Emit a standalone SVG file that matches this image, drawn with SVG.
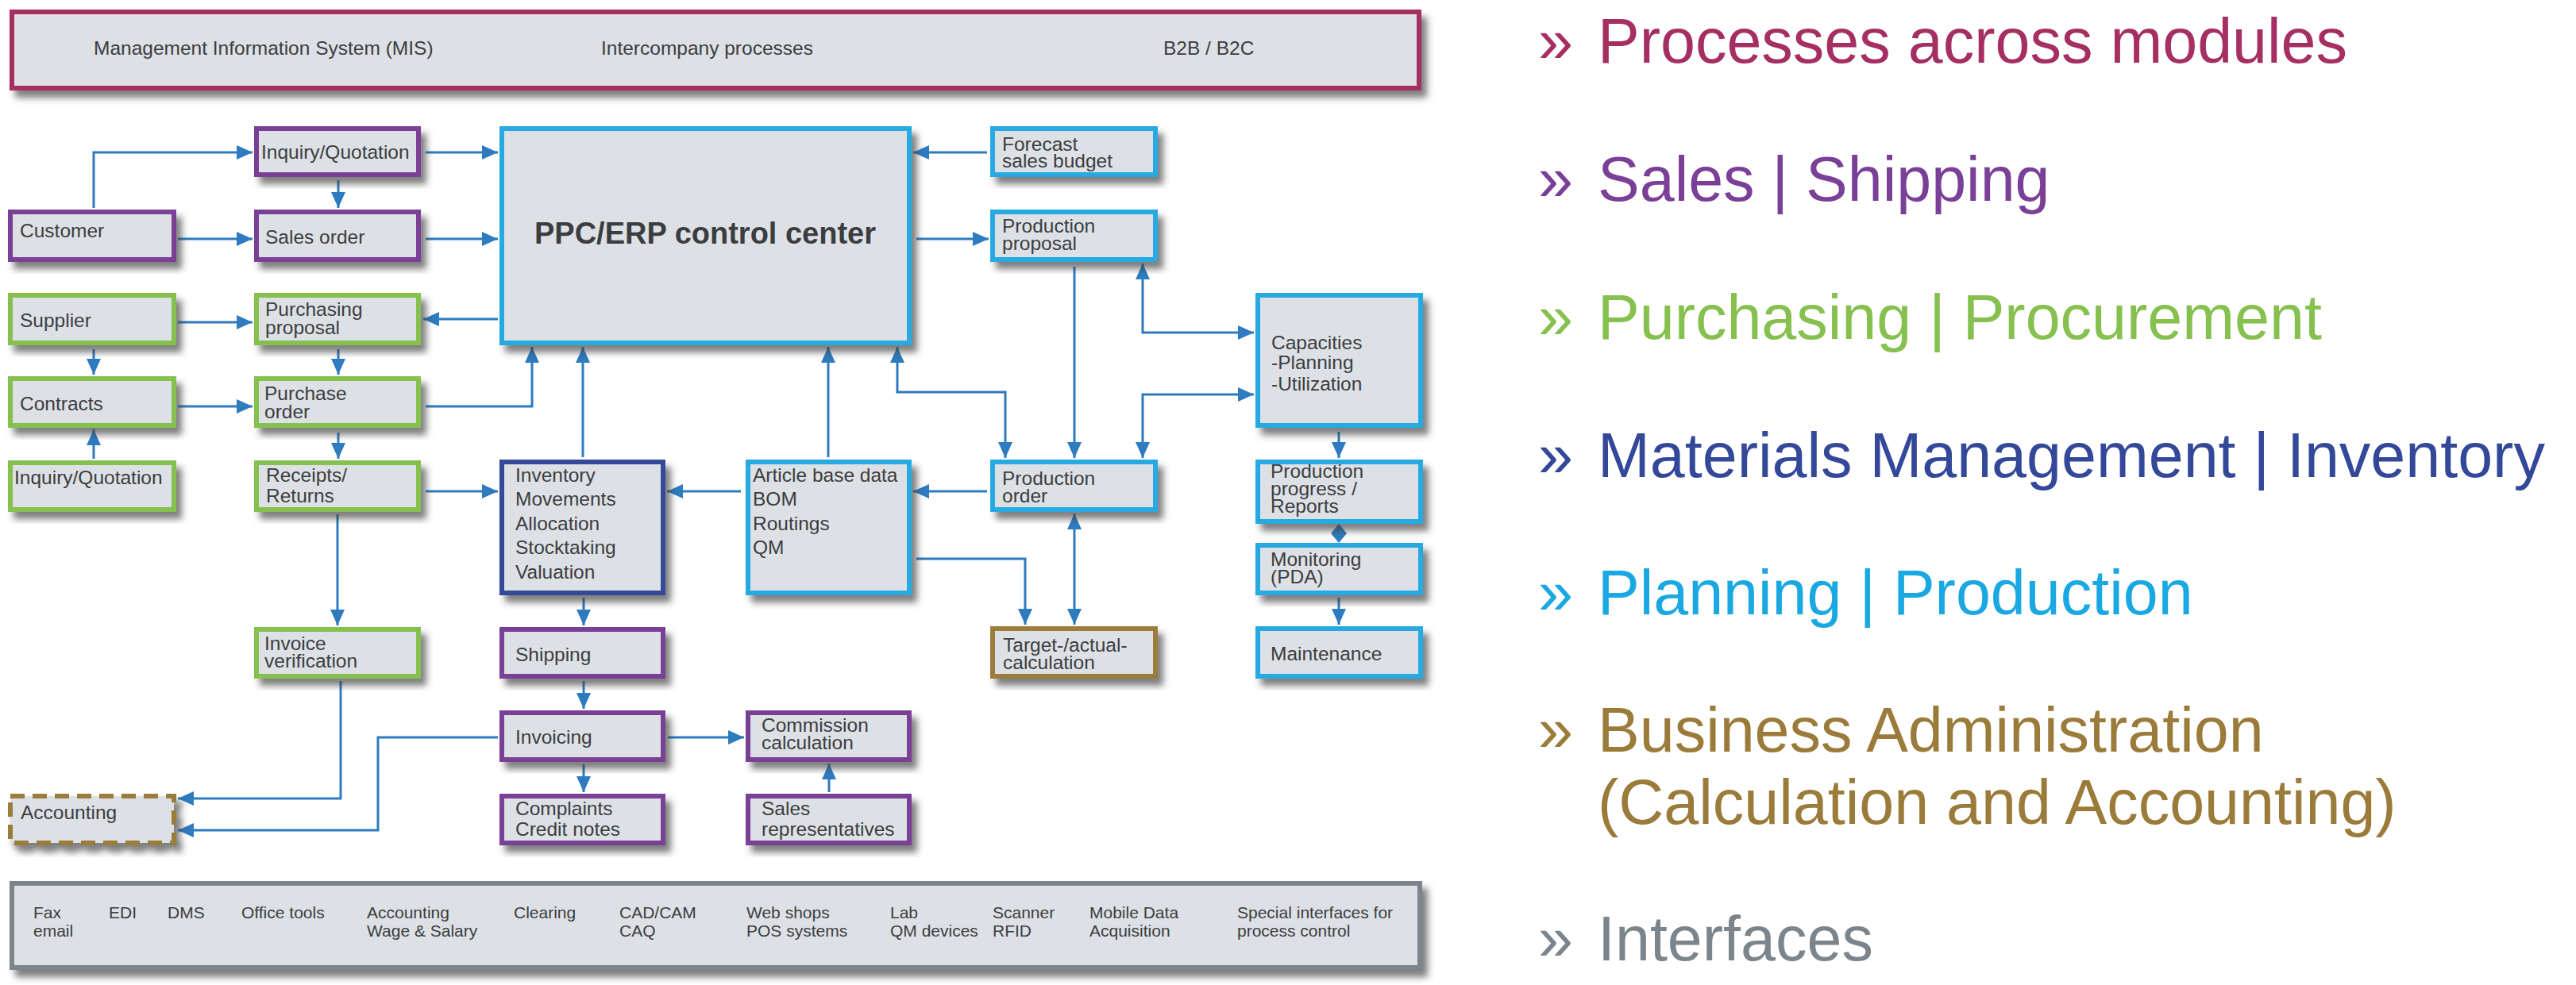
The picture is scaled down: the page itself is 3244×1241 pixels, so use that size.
<svg xmlns="http://www.w3.org/2000/svg" width="3244" height="1241" viewBox="0 0 3244 1241">
<style>
  .box { fill: #dde1e5; stroke-width: 6; filter: url(#sh); }
  .pur { stroke: #7a3f96; }
  .grn { stroke: #86c04f; }
  .cyn { stroke: #27aae1; }
  .dbl { stroke: #34489a; }
  .olv { stroke: #9a7b3a; }
  .dash { stroke-dasharray: 18 10; }
  .t { font-family: "Liberation Sans", Arial, sans-serif; font-size: 24.5px; fill: #3b3d40; }
  .s { font-family: "Liberation Sans", Arial, sans-serif; font-size: 21px; fill: #3b3d40; }
  .b { font-family: "Liberation Sans", Arial, sans-serif; font-size: 24.5px; fill: #3b3d40; }
  .lg { font-family: "Liberation Sans", Arial, sans-serif; font-size: 79px; }
  .conn path { fill: none; stroke: #2e7bbf; stroke-width: 3; }
  .conn path.dia { fill: #2e7bbf; stroke: none; }
</style>
<defs>
  <filter id="sh" x="-10%" y="-10%" width="130%" height="140%">
    <feDropShadow dx="7" dy="9" stdDeviation="4" flood-color="#3a3a3a" flood-opacity="0.65"/>
  </filter>
  <marker id="ah" viewBox="0 0 20 18" refX="20" refY="9" markerWidth="20" markerHeight="18" markerUnits="userSpaceOnUse" orient="auto-start-reverse">
    <path d="M0,0 L20,9 L0,18 Z" fill="#2e7bbf"/>
  </marker>
</defs>
<rect width="3244" height="1241" fill="#ffffff"/>

<g id="top-bar">
  <rect x="15" y="15" width="1772" height="96" fill="#dde1e5" stroke="#a52f63" stroke-width="6" filter="url(#sh)"/>
  <text class="b" x="118" y="69">Management Information System (MIS)</text>
  <text class="b" x="757" y="69">Intercompany processes</text>
  <text class="b" x="1465" y="69">B2B / B2C</text>
</g>

<g id="bottom-bar">
  <rect x="15" y="1113" width="1773" height="106" fill="#dde1e5" stroke="#7c858c" stroke-width="6" filter="url(#sh)"/>
  <text class="s" x="42" y="1157">Fax</text><text class="s" x="42" y="1180">email</text>
  <text class="s" x="137" y="1157">EDI</text>
  <text class="s" x="211" y="1157">DMS</text>
  <text class="s" x="304" y="1157">Office tools</text>
  <text class="s" x="462" y="1157">Accounting</text><text class="s" x="462" y="1180">Wage &amp; Salary</text>
  <text class="s" x="647" y="1157">Clearing</text>
  <text class="s" x="780" y="1157">CAD/CAM</text><text class="s" x="780" y="1180">CAQ</text>
  <text class="s" x="940" y="1157">Web shops</text><text class="s" x="940" y="1180">POS systems</text>
  <text class="s" x="1121" y="1157">Lab</text><text class="s" x="1121" y="1180">QM devices</text>
  <text class="s" x="1250" y="1157">Scanner</text><text class="s" x="1250" y="1180">RFID</text>
  <text class="s" x="1372" y="1157">Mobile Data</text><text class="s" x="1372" y="1180">Acquisition</text>
  <text class="s" x="1558" y="1157">Special interfaces for</text><text class="s" x="1558" y="1180">process control</text>
</g>

<g class="conn" id="connectors">
  <path d="M118,262 V192 H318" marker-end="url(#ah)"/>
  <path d="M224,301 H318" marker-end="url(#ah)"/>
  <path d="M426,227 V262" marker-end="url(#ah)"/>
  <path d="M536,192 H627" marker-end="url(#ah)"/>
  <path d="M536,301 H627" marker-end="url(#ah)"/>
  <path d="M627,402 H533" marker-end="url(#ah)"/>
  <path d="M224,406 H318" marker-end="url(#ah)"/>
  <path d="M118,440 V472" marker-end="url(#ah)"/>
  <path d="M426,440 V472" marker-end="url(#ah)"/>
  <path d="M224,512 H318" marker-end="url(#ah)"/>
  <path d="M536,512 H670 V437" marker-end="url(#ah)"/>
  <path d="M118,578 V541" marker-end="url(#ah)"/>
  <path d="M426,545 V578" marker-end="url(#ah)"/>
  <path d="M536,619 H627" marker-end="url(#ah)"/>
  <path d="M734,576 V437" marker-end="url(#ah)"/>
  <path d="M1043,576 V437" marker-end="url(#ah)"/>
  <path d="M1130,437 V494 H1266 V577" marker-start="url(#ah)" marker-end="url(#ah)"/>
  <path d="M1243,192 H1150" marker-end="url(#ah)"/>
  <path d="M1154,301 H1245" marker-end="url(#ah)"/>
  <path d="M1353,336 V577" marker-end="url(#ah)"/>
  <path d="M1439,332 V419 H1579" marker-start="url(#ah)" marker-end="url(#ah)"/>
  <path d="M1579,497 H1439 V577" marker-start="url(#ah)" marker-end="url(#ah)"/>
  <path d="M1686,544 V577" marker-end="url(#ah)"/>
  <path d="M933,619 H840" marker-end="url(#ah)"/>
  <path d="M1243,619 H1150" marker-end="url(#ah)"/>
  <path d="M1154,704 H1291 V787" marker-end="url(#ah)"/>
  <path d="M1353,647 V787" marker-start="url(#ah)" marker-end="url(#ah)"/>
  <path class="dia" d="M1686,660 L1696,672 L1686,684 L1676,672 Z"/>
  <path d="M1686,753 V787" marker-end="url(#ah)"/>
  <path d="M425,648 V788" marker-end="url(#ah)"/>
  <path d="M735,753 V788" marker-end="url(#ah)"/>
  <path d="M735,858 V893" marker-end="url(#ah)"/>
  <path d="M735,963 V998" marker-end="url(#ah)"/>
  <path d="M429,858 V1006 H224" marker-end="url(#ah)"/>
  <path d="M627,929 H476 V1046 H224" marker-end="url(#ah)"/>
  <path d="M841,929 H937" marker-end="url(#ah)"/>
  <path d="M1044,998 V962" marker-end="url(#ah)"/>
</g>

<g id="inquiry-quotation-1"><rect class="box pur" x="323" y="162" width="204" height="58"/><text class="t" x="329" y="200">Inquiry/Quotation</text></g>
<g id="customer"><rect class="box pur" x="13" y="267" width="206" height="60"/><text class="t" x="25" y="299">Customer</text></g>
<g id="sales-order"><rect class="box pur" x="323" y="267" width="204" height="60"/><text class="t" x="334" y="307">Sales order</text></g>
<g id="supplier"><rect class="box grn" x="13" y="372" width="206" height="60"/><text class="t" x="25" y="412">Supplier</text></g>
<g id="purchasing-proposal"><rect class="box grn" x="323" y="372" width="204" height="60"/><text class="t" x="334" y="398">Purchasing</text><text class="t" x="334" y="421">proposal</text></g>
<g id="contracts"><rect class="box grn" x="13" y="477" width="206" height="59"/><text class="t" x="25" y="517">Contracts</text></g>
<g id="purchase-order"><rect class="box grn" x="323" y="477" width="204" height="59"/><text class="t" x="333" y="504">Purchase</text><text class="t" x="333" y="527">order</text></g>
<g id="inquiry-quotation-2"><rect class="box grn" x="13" y="583" width="206" height="59"/><text class="t" x="18" y="610">Inquiry/Quotation</text></g>
<g id="receipts-returns"><rect class="box grn" x="323" y="583" width="204" height="59"/><text class="t" x="335" y="607">Receipts/</text><text class="t" x="335" y="633">Returns</text></g>
<g id="invoice-verification"><rect class="box grn" x="323" y="793" width="204" height="59"/><text class="t" x="333" y="819">Invoice</text><text class="t" x="333" y="841">verification</text></g>
<g id="accounting"><rect class="box olv dash" x="13" y="1003" width="206" height="59"/><text class="t" x="26" y="1032">Accounting</text></g>

<g id="ppc-erp"><rect class="box cyn" x="632" y="162" width="513" height="270"/><text x="888" y="307" text-anchor="middle" font-family="Liberation Sans, Arial, sans-serif" font-weight="bold" font-size="38" fill="#3b3d40">PPC/ERP control center</text></g>
<g id="inventory"><rect class="box dbl" x="632" y="582" width="203" height="165"/><text class="t" x="649" y="607">Inventory</text><text class="t" x="649" y="637">Movements</text><text class="t" x="649" y="668">Allocation</text><text class="t" x="649" y="698">Stocktaking</text><text class="t" x="649" y="729">Valuation</text></g>
<g id="shipping"><rect class="box pur" x="632" y="793" width="203" height="59"/><text class="t" x="649" y="833">Shipping</text></g>
<g id="invoicing"><rect class="box pur" x="632" y="898" width="203" height="59"/><text class="t" x="649" y="937">Invoicing</text></g>
<g id="complaints"><rect class="box pur" x="632" y="1003" width="203" height="59"/><text class="t" x="649" y="1027">Complaints</text><text class="t" x="649" y="1053">Credit notes</text></g>
<g id="article-base-data"><rect class="box cyn" x="942" y="582" width="203" height="165"/><text class="t" x="948" y="607">Article base data</text><text class="t" x="948" y="637">BOM</text><text class="t" x="948" y="668">Routings</text><text class="t" x="948" y="698">QM</text></g>
<g id="commission"><rect class="box pur" x="942" y="898" width="203" height="59"/><text class="t" x="959" y="922">Commission</text><text class="t" x="959" y="944">calculation</text></g>
<g id="sales-representatives"><rect class="box pur" x="942" y="1003" width="203" height="59"/><text class="t" x="959" y="1027">Sales</text><text class="t" x="959" y="1053">representatives</text></g>

<g id="forecast"><rect class="box cyn" x="1250" y="162" width="205" height="58"/><text class="t" x="1262" y="190">Forecast</text><text class="t" x="1262" y="211">sales budget</text></g>
<g id="production-proposal"><rect class="box cyn" x="1250" y="267" width="205" height="60"/><text class="t" x="1262" y="293">Production</text><text class="t" x="1262" y="315">proposal</text></g>
<g id="production-order"><rect class="box cyn" x="1250" y="582" width="205" height="60"/><text class="t" x="1262" y="611">Production</text><text class="t" x="1262" y="633">order</text></g>
<g id="target-actual"><rect class="box olv" x="1250" y="792" width="205" height="60"/><text class="t" x="1263" y="821">Target-/actual-</text><text class="t" x="1263" y="843">calculation</text></g>
<g id="capacities"><rect class="box cyn" x="1584" y="372" width="205" height="164"/><text class="t" x="1601" y="440">Capacities</text><text class="t" x="1601" y="465">-Planning</text><text class="t" x="1601" y="492">-Utilization</text></g>
<g id="production-progress"><rect class="box cyn" x="1584" y="582" width="205" height="75"/><text class="t" x="1600" y="602">Production</text><text class="t" x="1600" y="624">progress /</text><text class="t" x="1600" y="646">Reports</text></g>
<g id="monitoring"><rect class="box cyn" x="1584" y="687" width="205" height="60"/><text class="t" x="1600" y="713">Monitoring</text><text class="t" x="1600" y="735">(PDA)</text></g>
<g id="maintenance"><rect class="box cyn" x="1584" y="792" width="205" height="60"/><text class="t" x="1600" y="832">Maintenance</text></g>

<g id="legend">
  <text class="lg" x="1937" y="79" fill="#a52f63">»</text><text class="lg" x="2012" y="79" fill="#a52f63">Processes across modules</text>
  <text class="lg" x="1937" y="253" fill="#7a3f96">»</text><text class="lg" x="2012" y="253" fill="#7a3f96">Sales | Shipping</text>
  <text class="lg" x="1937" y="427" fill="#86c04f">»</text><text class="lg" x="2012" y="427" fill="#86c04f">Purchasing | Procurement</text>
  <text class="lg" x="1937" y="601" fill="#34489a">»</text><text class="lg" x="2012" y="601" fill="#34489a">Materials Management | Inventory</text>
  <text class="lg" x="1937" y="774" fill="#1aa8e2">»</text><text class="lg" x="2012" y="774" fill="#1aa8e2">Planning | Production</text>
  <text class="lg" x="1937" y="947" fill="#9a7b3a">»</text><text class="lg" x="2012" y="947" fill="#9a7b3a">Business Administration</text>
  <text class="lg" x="2012" y="1038" fill="#9a7b3a">(Calculation and Accounting)</text>
  <text class="lg" x="1937" y="1210" fill="#7c858c">»</text><text class="lg" x="2012" y="1210" fill="#7c858c">Interfaces</text>
</g>
</svg>
